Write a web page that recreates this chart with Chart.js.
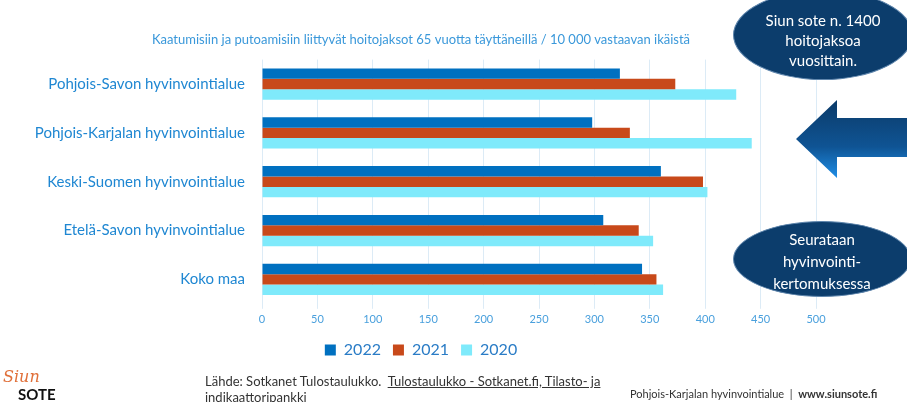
<!DOCTYPE html>
<html>
<head>
<meta charset="utf-8">
<script src="https://cdn.jsdelivr.net/npm/chart.js@4"></script>
<style>
  body { margin: 0; background: #fff; }
  #wrap { position: relative; width: 907px; height: 402px; overflow: hidden; font-family: Lato, sans-serif; }
  #chartBox { position: absolute; left: 0; top: 0; width: 907px; height: 402px; }
  .ell { position: absolute; background: #0c3d6c; border: 1px solid #5f86ad; border-radius: 50%;
         color: #fff; text-align: center; font-size: 15px; box-sizing: border-box; }
  .foot { position: absolute; color: #333; font-size: 13px; white-space: nowrap; }
</style>
</head>
<body>
<div id="wrap">
  <div id="chartBox"><canvas id="falls"></canvas></div>

  <div class="ell" style="left:733px; top:-10px; width:180px; height:90px; padding-top:19px; line-height:20px;">
    Siun sote n. 1400<br>hoitojaksoa<br>vuosittain.
  </div>

  <svg style="position:absolute; left:790px; top:95px;" width="117" height="90">
    <defs>
      <linearGradient id="arr" x1="0" y1="0" x2="0" y2="1">
        <stop offset="0" stop-color="#0b3a68"/>
        <stop offset="0.6" stop-color="#0f5494"/>
        <stop offset="1" stop-color="#1f8ee6"/>
      </linearGradient>
    </defs>
    <polygon points="6,44 47,5 47,23 117,23 117,62 47,62 47,83" fill="url(#arr)"/>
  </svg>

  <div class="ell" style="left:733px; top:221px; width:178px; height:76px; padding-top:6px; line-height:22px;">
    Seurataan<br>hyvinvointi-<br>kertomuksessa
  </div>

  <div class="foot" style="left:3px; top:367px; color:#e0703a; font-family:'DejaVu Serif', serif; font-style:italic; font-size:16px;">Siun</div>
  <div class="foot" style="left:18px; top:385px; color:#111; font-weight:bold; font-size:15px;">SOTE</div>

  <div class="foot" style="left:205px; top:373px;">Lähde: Sotkanet Tulostaulukko. &nbsp;<span style="text-decoration:underline;">Tulostaulukko - Sotkanet.fi, Tilasto- ja</span></div>
  <div class="foot" style="left:205px; top:389px; text-decoration:underline;">indikaattoripankki</div>
  <div class="foot" style="left:630px; top:387px; font-size:11px;">Pohjois-Karjalan hyvinvointialue &nbsp;| &nbsp;<b>www.siunsote.fi</b></div>
</div>

<script>
const regions = [
  'Pohjois-Savon hyvinvointialue',
  'Pohjois-Karjalan hyvinvointialue',
  'Keski-Suomen hyvinvointialue',
  'Etelä-Savon hyvinvointialue',
  'Koko maa'
];
const years = ['2022', '2021', '2020'];
const values2022 = [323, 298, 360, 308, 343];
const values2021 = [373, 332, 398, 340, 356];
const values2020 = [428, 442, 402, 353, 362];
const xTicks = [0, 50, 100, 150, 200, 250, 300, 350, 400, 450, 500];
const titleText = 'Kaatumisiin ja putoamisiin liittyvät hoitojaksot 65 vuotta täyttäneillä / 10 000 vastaavan ikäistä';

const barColors = ['#0070c0', '#c8491a', '#7feafb'];
const seriesValues = [values2022, values2021, values2020];

const ctx = document.getElementById('falls').getContext('2d');

new Chart(ctx, {
  type: 'bar',
  data: {
    labels: regions,
    datasets: years.map((y, i) => ({
      label: y,
      data: seriesValues[i],
      backgroundColor: barColors[i],
      borderWidth: 0,
      categoryPercentage: 0.64,
      barPercentage: 1.0
    }))
  },
  options: {
    indexAxis: 'y',
    responsive: true,
    maintainAspectRatio: false,
    animation: false,
    layout: { padding: { left: 26, right: 91, top: 29, bottom: 34 } },
    scales: {
      x: {
        min: 0,
        max: 500,
        afterBuildTicks: scale => { scale.ticks = xTicks.map(v => ({ value: v })); },
        grid: { color: '#dcebf6', lineWidth: 1, tickLength: 5, drawTicks: true },
        border: { display: false },
        ticks: { color: '#4aa0dd', padding: 4, font: { family: 'Lato', size: 11 } }
      },
      y: {
        afterFit: scale => { scale.width = 236; },
        grid: { display: false, drawTicks: false },
        border: { display: false },
        ticks: { color: '#1f87d2', padding: 17, font: { family: 'Lato', size: 15 } }
      }
    },
    plugins: {
      title: {
        display: true,
        text: titleText,
        color: '#3a98da',
        font: { family: 'Lato', size: 13, weight: 'normal' },
        padding: { top: 3, bottom: 12 }
      },
      legend: {
        position: 'bottom',
        labels: {
          color: '#2a7cc6',
          boxWidth: 11,
          boxHeight: 11,
          padding: 12,
          font: { family: 'Lato', size: 16 }
        }
      },
      tooltip: { enabled: false }
    }
  }
});
</script>
</body>
</html>
